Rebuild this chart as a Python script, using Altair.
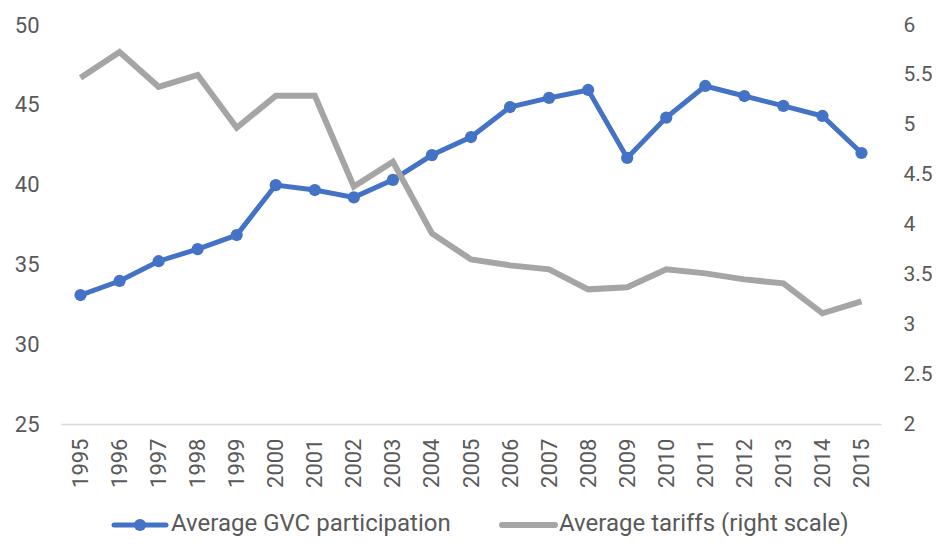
import altair as alt
import pandas as pd

years = [str(y) for y in range(1995, 2016)]
gvc = [33.08, 33.96, 35.2, 35.96, 36.84, 39.97, 39.66, 39.2, 40.3, 41.85, 42.98,
       44.86, 45.43, 45.93, 41.67, 44.2, 46.18, 45.55, 44.93, 44.3, 41.98]
tariffs = [5.47, 5.73, 5.38, 5.5, 4.97, 5.29, 5.29, 4.38, 4.63, 3.91, 3.65,
           3.59, 3.55, 3.35, 3.37, 3.55, 3.51, 3.45, 3.41, 3.11, 3.23]
legend_labels = ["Average GVC participation", "Average tariffs (right scale)"]

df = pd.DataFrame({"year": years, "gvc": gvc, "tariffs": tariffs})

FONT = "Roboto"
LBL = "#595959"
BLUE = "#4472C4"
GRAY = "#A5A5A5"

xenc = alt.X("year:O", title=None, sort=years,
             scale=alt.Scale(type="point", padding=0.5),
             axis=alt.Axis(labelAngle=-90, labelFontSize=22, labelColor=LBL, labelFont=FONT,
                           ticks=False, domainColor="#D9D9D9", domainWidth=1.5,
                           labelPadding=14, labelBaseline="middle", labelAlign="right"))

base = alt.Chart(df)

gvc_line = base.mark_line(color=BLUE, strokeWidth=5).encode(
    x=xenc,
    y=alt.Y("gvc:Q", title=None,
            scale=alt.Scale(domain=[25, 50], nice=False, zero=False),
            axis=alt.Axis(values=[25, 30, 35, 40, 45, 50], grid=False, domain=False, ticks=False,
                          labelFontSize=22, labelColor=LBL, labelFont=FONT, labelPadding=22,
                          orient="left")))
gvc_pts = base.mark_circle(color=BLUE, size=150, opacity=1).encode(
    x=alt.X("year:O", sort=years, scale=alt.Scale(type="point", padding=0.5)),
    y=alt.Y("gvc:Q", scale=alt.Scale(domain=[25, 50], nice=False, zero=False)))

left = alt.layer(gvc_line, gvc_pts)

tar_line = base.mark_line(color=GRAY, strokeWidth=6).encode(
    x=xenc,
    y=alt.Y("tariffs:Q", title=None,
            scale=alt.Scale(domain=[2, 6], nice=False, zero=False),
            axis=alt.Axis(values=[2, 2.5, 3, 3.5, 4, 4.5, 5, 5.5, 6], grid=False, domain=False,
                          ticks=False, labelFontSize=21, labelColor=LBL, labelFont=FONT,
                          labelPadding=22, orient="right", format="~g")))

# manual legend below the chart
leg_y = 500
lg1_line = alt.Chart(df.head(1)).mark_rule(color=BLUE, strokeWidth=5, strokeCap="round").encode(
    x=alt.value(53), x2=alt.value(105), y=alt.value(leg_y))
lg1_pt = alt.Chart(df.head(1)).mark_circle(color=BLUE, size=150, opacity=1).encode(
    x=alt.value(79), y=alt.value(leg_y))
lg1_txt = alt.Chart(pd.DataFrame({"t": [legend_labels[0]]})).mark_text(
    align="left", baseline="alphabetic", fontSize=24, font=FONT, color=LBL).encode(
    x=alt.value(110), y=alt.value(leg_y + 6), text="t:N")
lg2_line = alt.Chart(df.head(1)).mark_rule(color=GRAY, strokeWidth=6, strokeCap="round").encode(
    x=alt.value(441), x2=alt.value(494), y=alt.value(leg_y))
lg2_txt = alt.Chart(pd.DataFrame({"t": [legend_labels[1]]})).mark_text(
    align="left", baseline="alphabetic", fontSize=24, font=FONT, color=LBL).encode(
    x=alt.value(498), y=alt.value(leg_y + 6), text="t:N")

chart = alt.layer(
    left, tar_line, lg1_line, lg1_pt, lg1_txt, lg2_line, lg2_txt
).resolve_scale(y="independent").properties(
    width=820, height=399,
    autosize=alt.AutoSizeParams(type="none"),
    padding={"left": 53, "right": 51, "top": 17, "bottom": 112},
).configure(background="white").configure_view(strokeWidth=0)

chart.save("out.html", embed_options={"renderer": "svg", "actions": False})
